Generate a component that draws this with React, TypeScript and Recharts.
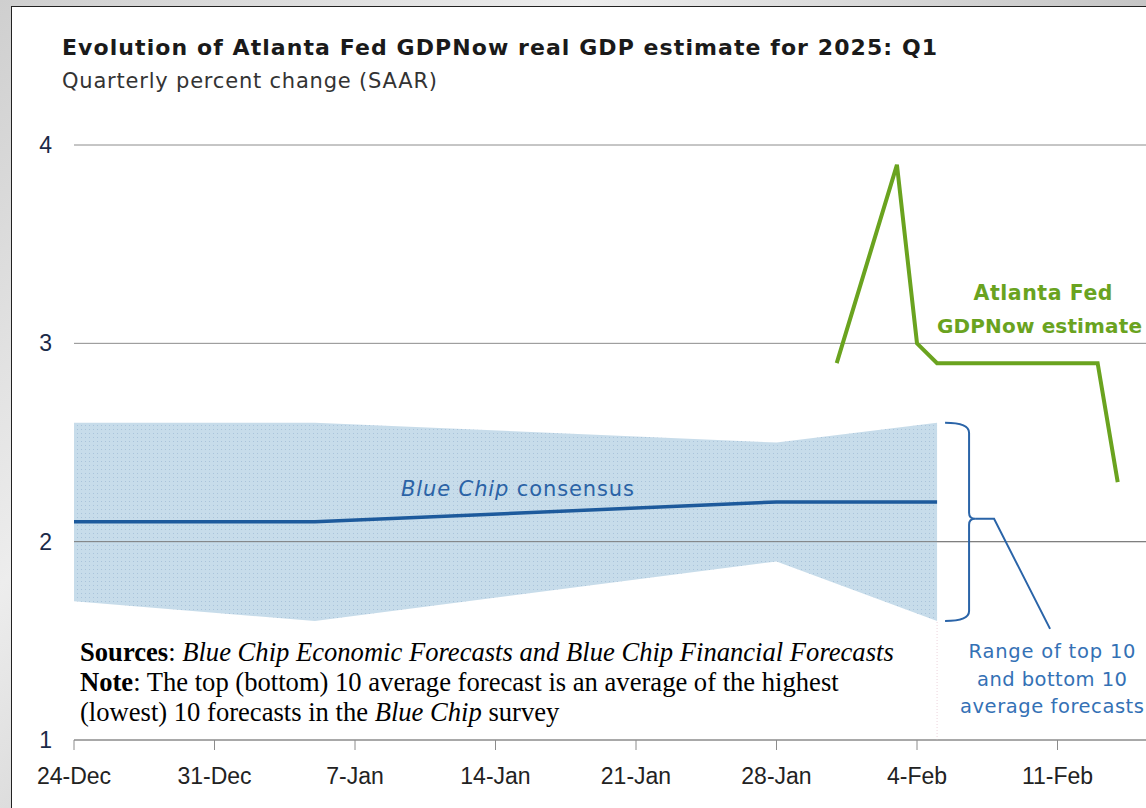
import React from "react";
import { ComposedChart, Area, Line, XAxis, YAxis, CartesianGrid, ReferenceLine } from "recharts";

// x values are days since 24-Dec-2024
const TICK_DAYS = [0, 7, 14, 21, 28, 35, 42, 49];
const TICK_LABELS = ["24-Dec", "31-Dec", "7-Jan", "14-Jan", "21-Jan", "28-Jan", "4-Feb", "11-Feb"];
const Y_TICKS = [1, 2, 3, 4];

// Blue Chip survey: top/bottom 10 averages and consensus
const BC_DAYS = [0, 12, 35, 43];
const BC_LOW = [1.7, 1.6, 1.9, 1.6];
const BC_HIGH = [2.6, 2.6, 2.5, 2.6];
const BC_CONSENSUS = [2.1, 2.1, 2.2, 2.2];

// Atlanta Fed GDPNow
const GDP_DAYS = [38, 41, 42, 43, 51, 52];
const GDP_VALUES = [2.9, 3.9, 3.0, 2.9, 2.9, 2.3];

const W = 1146;
const H = 808;
const PLOT_LEFT = 74;
const PLOT_TOP = 145;
const PLOT_BOTTOM = 740;
const X_MAX = (W - PLOT_LEFT) / (140.5 / 7);

const px = (d: number) => PLOT_LEFT + (d * (W - PLOT_LEFT)) / X_MAX;
const py = (v: number) => PLOT_BOTTOM - ((v - 1) * (PLOT_BOTTOM - PLOT_TOP)) / 3;

const bcData = BC_DAYS.map((d, i) => ({
  day: d,
  range: [BC_LOW[i], BC_HIGH[i]],
  consensus: BC_CONSENSUS[i],
}));
const gdpData = GDP_DAYS.map((d, i) => ({ day: d, gdp: GDP_VALUES[i] }));

const SANS = "'DejaVu Sans', 'Noto Sans', sans-serif";
const ARIAL = "'Liberation Sans', Arial, sans-serif";
const SERIF = "'Liberation Serif', 'Times New Roman', serif";

function Annotations() {
  const lastDay = BC_DAYS[BC_DAYS.length - 1];
  const bx = px(lastDay);
  const top = py(BC_HIGH[BC_HIGH.length - 1]);
  const bot = py(BC_LOW[BC_LOW.length - 1]);
  const mid = (top + bot) / 2 - 3;
  const x0 = bx + 8;
  const x1 = bx + 32;
  const brace = `M${x0},${top} Q${x1},${top} ${x1},${top + 10} L${x1},${mid - 6} Q${x1},${mid} ${x1 + 6},${mid}
    Q${x1},${mid} ${x1},${mid + 6} L${x1},${bot - 10} Q${x1},${bot} ${x0},${bot}`;
  return (
    <svg width={W} height={H} style={{ position: "absolute", left: 0, top: 0, pointerEvents: "none" }}>
      <text x={62} y={55} fontFamily={SANS} fontWeight={700} fontSize={22} fill="#1a1a1a" textLength={875} lengthAdjust="spacing">
        Evolution of Atlanta Fed GDPNow real GDP estimate for 2025: Q1
      </text>
      <text x={62} y={88} fontFamily={SANS} fontSize={21} fill="#333" textLength={375} lengthAdjust="spacing">
        Quarterly percent change (SAAR)
      </text>

      <text x={401} y={496} fontFamily={SANS} fontSize={21} fill="#2b63a6" textLength={233} lengthAdjust="spacing">
        <tspan fontStyle="italic">Blue Chip</tspan> consensus
      </text>

      <text x={1043} y={300} textAnchor="middle" fontFamily={SANS} fontWeight={700} fontSize={20.5} fill="#6aa31f" textLength={139} lengthAdjust="spacing">
        Atlanta Fed
      </text>
      <text x={937} y={333} fontFamily={SANS} fontWeight={700} fontSize={20} fill="#6aa31f" textLength={205} lengthAdjust="spacing">
        GDPNow estimate
      </text>

      <path d={brace} fill="none" stroke="#2a64a8" strokeWidth={2} />
      <path d={`M${x1 + 6},${mid} L${x1 + 25},${mid} L${x1 + 81},${mid + 110}`} fill="none" stroke="#2a64a8" strokeWidth={2} />
      <g fontFamily={SANS} fontSize={19.5} fill="#3471b5" textAnchor="middle">
        <text x={1052} y={658} textLength={167} lengthAdjust="spacing">Range of top 10</text>
        <text x={1052} y={686} textLength={150} lengthAdjust="spacing">and bottom 10</text>
        <text x={1052} y={713} textLength={184} lengthAdjust="spacing">average forecasts</text>
      </g>

      <g fontFamily={SERIF} fontSize={26.6} fill="#000">
        <text x={80} y={661}>
          <tspan fontWeight={700}>Sources</tspan>: <tspan fontStyle="italic">Blue Chip Economic Forecasts and Blue Chip Financial Forecasts</tspan>
        </text>
        <text x={80} y={691}>
          <tspan fontWeight={700}>Note</tspan>: The top (bottom) 10 average forecast is an average of the highest
        </text>
        <text x={80} y={721}>
          (lowest) 10 forecasts in the <tspan fontStyle="italic">Blue Chip</tspan> survey
        </text>
      </g>
    </svg>
  );
}

export default function App() {
  return (
    <div
      style={{
        position: "absolute",
        left: 0,
        top: 0,
        width: W,
        height: H,
        overflow: "hidden",
        background: "linear-gradient(135deg, #cfcfcf 0%, #ededed 30%, #c4c4c4 60%, #e6e6e6 100%)",
      }}
    >
      <div
        style={{
          position: "absolute",
          left: 11,
          top: 6,
          right: 0,
          bottom: 0,
          background: "#fff",
          borderLeft: "1.5px solid #222",
          borderTop: "1.5px solid #222",
        }}
      />
      <div style={{ position: "absolute", left: 0, top: 0 }}>
        <ComposedChart
          width={W}
          height={H}
          margin={{ top: PLOT_TOP, right: 0, left: 14, bottom: H - PLOT_BOTTOM - 40 }}
        >
          <defs>
            <pattern id="dots" width="4" height="4" patternUnits="userSpaceOnUse">
              <rect width="4" height="4" fill="#c7dcea" />
              <rect x="1" y="1" width="1" height="1" fill="#a9c3da" />
            </pattern>
          </defs>
          <CartesianGrid vertical={false} stroke="#8c8c8c" strokeWidth={1} />
          <XAxis
            dataKey="day"
            type="number"
            domain={[0, X_MAX]}
            allowDataOverflow
            ticks={TICK_DAYS}
            interval={0}
            height={40}
            tickFormatter={(v: number) => TICK_LABELS[TICK_DAYS.indexOf(v)] ?? ""}
            tick={{ fontFamily: ARIAL, fontSize: 23, fill: "#222" }}
            axisLine={{ stroke: "#8c8c8c" }}
            tickLine={{ stroke: "#8c8c8c" }}
            tickSize={10}
            tickMargin={18}
          />
          <YAxis
            type="number"
            domain={[1, 4]}
            ticks={Y_TICKS}
            width={60}
            axisLine={false}
            tickLine={false}
            tickSize={0}
            tickMargin={22}
            tick={{ fontFamily: ARIAL, fontSize: 23, fill: "#1b2a48" }}
          />
          <Area
            data={bcData}
            dataKey="range"
            type="linear"
            stroke="none"
            fill="url(#dots)"
            fillOpacity={1}
            dot={false}
            activeDot={false}
            isAnimationActive={false}
          />
          <ReferenceLine y={2} stroke="#7a7a7a" strokeWidth={1} />
          <ReferenceLine
            segment={[
              { x: BC_DAYS[BC_DAYS.length - 1], y: 1 },
              { x: BC_DAYS[BC_DAYS.length - 1], y: BC_LOW[BC_LOW.length - 1] },
            ]}
            stroke="#ecd3dc"
            strokeDasharray="1 2"
          />
          <Line
            data={bcData}
            dataKey="consensus"
            type="linear"
            stroke="#1d5a9c"
            strokeWidth={3.5}
            dot={false}
            activeDot={false}
            isAnimationActive={false}
          />
          <Line
            data={gdpData}
            dataKey="gdp"
            type="linear"
            stroke="#6aa31f"
            strokeWidth={4}
            dot={false}
            activeDot={false}
            isAnimationActive={false}
          />
        </ComposedChart>
      </div>
      <Annotations />
    </div>
  );
}
